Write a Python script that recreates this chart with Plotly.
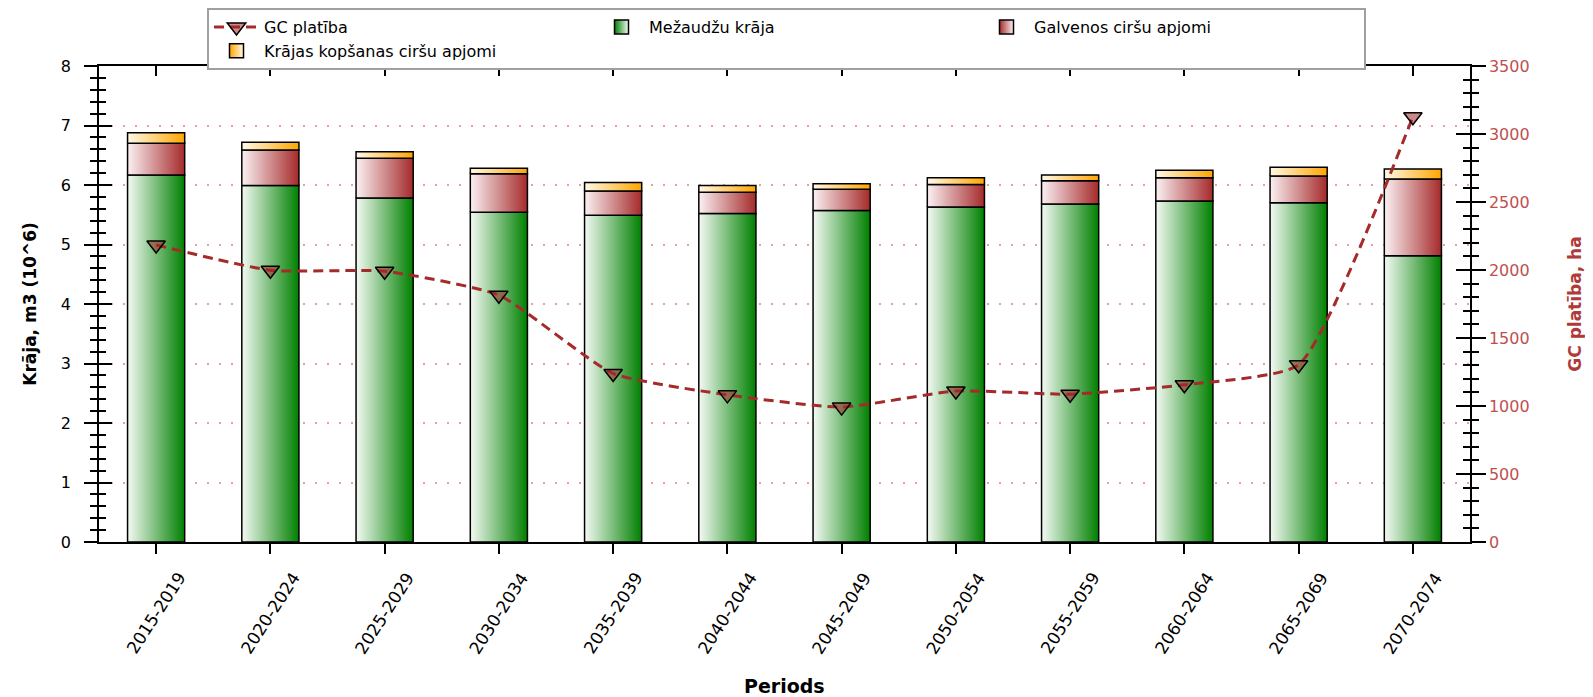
import plotly.graph_objects as go

periods = ["2015-2019", "2020-2024", "2025-2029", "2030-2034", "2035-2039", "2040-2044",
           "2045-2049", "2050-2054", "2055-2059", "2060-2064", "2065-2069", "2070-2074"]
mezaudzu_kraja = [6.17, 5.99, 5.78, 5.54, 5.49, 5.52, 5.57, 5.63, 5.68, 5.73, 5.70, 4.81]
galvenos_cirsu = [0.53, 0.60, 0.67, 0.65, 0.41, 0.36, 0.36, 0.38, 0.39, 0.39, 0.45, 1.29]
kopsanas_cirsu = [0.18, 0.13, 0.11, 0.09, 0.14, 0.11, 0.09, 0.11, 0.10, 0.13, 0.15, 0.17]
gc_platiba = [2184, 1998, 1991, 1815, 1239, 1082, 992, 1110, 1087, 1156, 1303, 3127]

FONT = "DejaVu Sans"
BAR_HALF = 0.25
xs = list(range(len(periods)))

fig = go.Figure()

series = [
    ("Mežaudžu krāja", mezaudzu_kraja, ["#f4faf4", "#008000"], 2),
    ("Galvenos ciršu apjomi", galvenos_cirsu, ["#fbf1f3", "#a52a2a"], 3),
    ("Krājas kopšanas ciršu apjomi", kopsanas_cirsu, ["#fff9e8", "#ffa500"], 4),
]

base = [0.0] * len(periods)
for name, vals, cols, rank in series:
    for i, v in enumerate(vals):
        b = base[i]
        t = b + v
        fig.add_trace(go.Scatter(
            x=[i - BAR_HALF, i + BAR_HALF, i + BAR_HALF, i - BAR_HALF, i - BAR_HALF],
            y=[b, b, t, t, b],
            mode="lines", fill="toself",
            fillgradient=dict(type="horizontal", colorscale=[[0, cols[0]], [1, cols[1]]]),
            line=dict(color="black", width=1.5),
            name=name, showlegend=False,
            hoverinfo="skip",
        ))
    base = [base[k] + vals[k] for k in range(len(vals))]
    # legend entry for the series
    fig.add_trace(go.Scatter(
        x=[None], y=[None], mode="markers", name=name, legendrank=rank,
        marker=dict(symbol="square", size=14, color=cols[1],
                    gradient=dict(type="horizontal", color=cols[0]),
                    line=dict(color="black", width=1.5)),
    ))

fig.add_trace(go.Scatter(
    x=xs, y=gc_platiba, yaxis="y2", mode="lines+markers", name="GC platība", legendrank=1,
    line=dict(color="#a52a2a", width=3, dash="10px,6px", shape="spline", smoothing=0.5),
    marker=dict(symbol="triangle-down", size=16, color="rgba(160,40,40,0.55)",
                line=dict(color="black", width=1.5)),
))

# helper empty traces so that the mirrored tick axes are drawn
fig.add_trace(go.Scatter(x=[], y=[], xaxis="x2", yaxis="y3", showlegend=False, hoverinfo="skip"))
fig.add_trace(go.Scatter(x=[], y=[], xaxis="x", yaxis="y4", showlegend=False, hoverinfo="skip"))

for k, p in enumerate(periods):
    fig.add_annotation(x=xs[k], xref="x", y=0, yref="paper", yshift=-71, text=p,
                       showarrow=False, textangle=-57, xanchor="center", yanchor="middle",
                       font=dict(family=FONT, size=17, color="black"))
fig.add_annotation(x=0.5, xref="paper", y=0, yref="paper", yshift=-144, text="Periods",
                   showarrow=False, xanchor="center", yanchor="middle",
                   font=dict(family=FONT, size=19, color="black", weight="bold"))

axis_common = dict(showline=True, linecolor="black", linewidth=1.5, tickcolor="black",
                   tickwidth=1.5, zeroline=False)

# the page body adds an 8 px offset, so the figure is 8 px smaller on each side
fig.update_layout(
    width=1585, height=689,
    margin=dict(l=91, r=123, t=58, b=155, autoexpand=False),
    paper_bgcolor="white", plot_bgcolor="white",
    font=dict(family=FONT, size=16, color="black"),
    showlegend=True,
    legend=dict(orientation="h", x=(207 - 99) / 1371, y=534 / 476,
                xanchor="left", yanchor="top", bordercolor="#a0a0a0", borderwidth=2,
                bgcolor="white", entrywidth=325, itemwidth=45, traceorder="normal",
                tracegroupgap=0,
                font=dict(family=FONT, size=16, color="black")),
    xaxis=dict(range=[-0.5, 11.5], tickvals=xs, showticklabels=False, ticks="outside",
               ticklen=10, showgrid=False, **axis_common),
    xaxis2=dict(range=[-0.5, 11.5], tickvals=xs, showticklabels=False, ticks="inside",
                ticklen=10, overlaying="x", side="top", anchor="y", showgrid=False,
                **axis_common),
    yaxis=dict(range=[0, 8], dtick=1, ticks="outside", ticklen=13, ticklabelstandoff=10,
               minor=dict(dtick=0.2, ticks="outside", ticklen=7, tickcolor="black", tickwidth=1.5),
               showgrid=True, gridcolor="#e6a0a0", griddash="2px,10px", gridwidth=1.5,
               title=dict(text="Krāja, m3 (10^6)", standoff=20,
                          font=dict(family=FONT, size=17, color="black", weight="bold")),
               **axis_common),
    yaxis3=dict(range=[0, 8], dtick=1, ticks="inside", ticklen=13, showticklabels=False,
                minor=dict(dtick=0.2, ticks="inside", ticklen=7, tickcolor="black", tickwidth=1.5),
                overlaying="y", side="left", anchor="x", showgrid=False, **axis_common),
    yaxis2=dict(range=[0, 3500], dtick=500, ticks="outside", ticklen=14, ticklabelstandoff=0,
                minor=dict(dtick=100, ticks="outside", ticklen=7, tickcolor="black", tickwidth=1.5),
                overlaying="y", side="right", anchor="x", showgrid=False,
                tickfont=dict(family=FONT, size=16, color="#bf4f4f"),
                title=dict(text="GC platība, ha", standoff=40,
                           font=dict(family=FONT, size=17, color="#b03a3a", weight="bold")),
                **axis_common),
    yaxis4=dict(range=[0, 3500], dtick=500, ticks="inside", ticklen=14, showticklabels=False,
                minor=dict(dtick=100, ticks="inside", ticklen=7, tickcolor="black", tickwidth=1.5),
                overlaying="y", side="right", anchor="x", showgrid=False, **axis_common),
)

fig.write_html("out.html")
